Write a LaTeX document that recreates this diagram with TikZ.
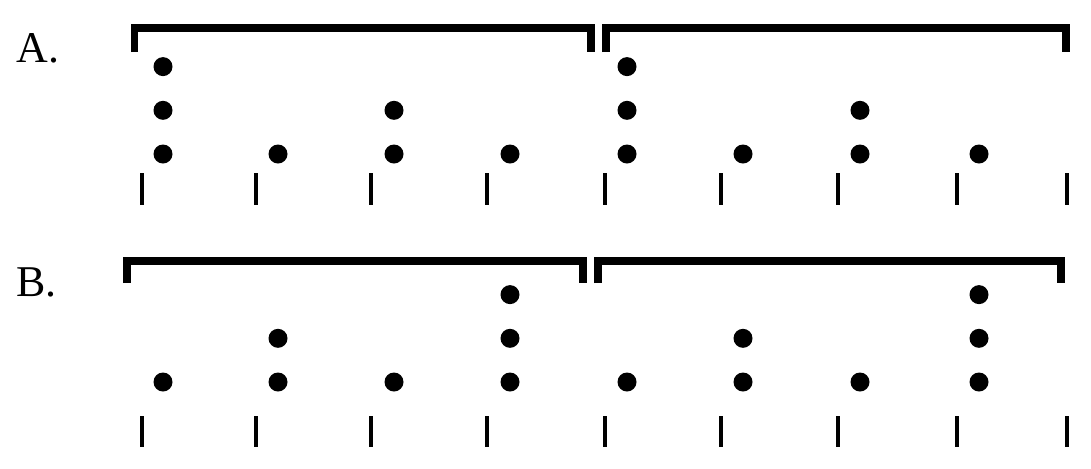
\documentclass[tikz,border=0pt]{standalone}
\usepackage{fontspec}
\setmainfont{Liberation Serif}
\usetikzlibrary{positioning}

\begin{document}
\begin{tikzpicture}[x=0.02cm,y=-0.02cm,
                beat/.style={circle,fill=black,inner sep=0pt,minimum size=0.38cm},
                grp/.style={line width=4.5pt,line join=miter},
                tick/.style={line width=2.2pt}]

\useasboundingbox (0,0) rectangle (1091,468);

\node[anchor=base west,inner sep=0pt,font=\fontsize{25}{30}\selectfont] (labA) at (16,62)  {A.};
\node[anchor=base west,inner sep=0pt,font=\fontsize{25}{30}\selectfont] (labB) at (16,296) {B.};

% A: grouping
\draw[grp] (134.5,52) |- (591,28) -- (591,52);
\draw[grp] (606,52) |- (1066,28) -- (1066,52);

% A: dots
\node[beat] (a1) at (163,154) {};
\node[beat] (a1b) [above=0.48cm of a1] {};
\node[beat] (a1c) [above=0.48cm of a1b] {};
\node[beat] (a2) at (278,154) {};
\node[beat] (a3) at (394,154) {};
\node[beat] (a3b) [above=0.48cm of a3] {};
\node[beat] (a4) at (510,154) {};
\node[beat] (a5) at (627,154) {};
\node[beat] (a5b) [above=0.48cm of a5] {};
\node[beat] (a5c) [above=0.48cm of a5b] {};
\node[beat] (a6) at (743,154) {};
\node[beat] (a7) at (860,154) {};
\node[beat] (a7b) [above=0.48cm of a7] {};
\node[beat] (a8) at (979,154) {};

% A: ticks
\draw[tick] (142,173) -- (142,205)  (256,173) -- (256,205)  (371,173) -- (371,205)
            (487,173) -- (487,205)  (605,173) -- (605,205)  (721,173) -- (721,205)
            (838,173) -- (838,205)  (957,173) -- (957,205)  (1067,173) -- (1067,205);

% B: grouping
\draw[grp] (127,283) |- (583,261) -- (583,283);
\draw[grp] (598,283) |- (1061,261) -- (1061,283);

% B: dots
\node[beat] (b1) at (163,382) {};
\node[beat] (b2) at (278,382) {};
\node[beat] (b2b) [above=0.48cm of b2] {};
\node[beat] (b3) at (394,382) {};
\node[beat] (b4) at (510,382) {};
\node[beat] (b4b) [above=0.48cm of b4] {};
\node[beat] (b4c) [above=0.48cm of b4b] {};
\node[beat] (b5) at (627,382) {};
\node[beat] (b6) at (743,382) {};
\node[beat] (b6b) [above=0.48cm of b6] {};
\node[beat] (b7) at (860,382) {};
\node[beat] (b8) at (979,382) {};
\node[beat] (b8b) [above=0.48cm of b8] {};
\node[beat] (b8c) [above=0.48cm of b8b] {};

% B: ticks
\draw[tick] (142,416) -- (142,447)  (256,416) -- (256,447)  (371,416) -- (371,447)
            (487,416) -- (487,447)  (605,416) -- (605,447)  (721,416) -- (721,447)
            (838,416) -- (838,447)  (957,416) -- (957,447)  (1067,416) -- (1067,447);
\end{tikzpicture}
\end{document}
